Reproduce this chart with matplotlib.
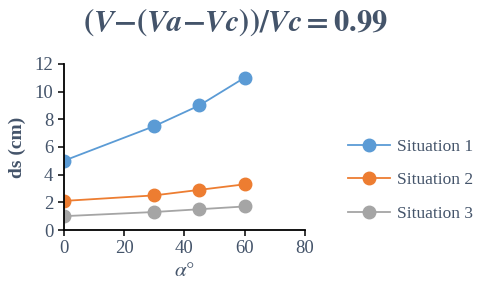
import matplotlib
matplotlib.use("Agg")
import matplotlib.pyplot as plt

angles = [0, 30, 45, 60]
situation_1 = [5.0, 7.5, 9.0, 11.0]
situation_2 = [2.1, 2.5, 2.9, 3.3]
situation_3 = [1.0, 1.3, 1.5, 1.7]
labels = ["Situation 1", "Situation 2", "Situation 3"]
colors = ["#5B9BD5", "#ED7D31", "#A5A5A5"]

plt.rcParams["font.family"] = "Liberation Serif"
plt.rcParams["mathtext.fontset"] = "stix"
text_color = "#44546A"

fig = plt.figure(figsize=(4.8, 2.93), dpi=100)
ax = fig.add_axes([0.133, 0.215, 0.502, 0.567])

for values, label, color in zip([situation_1, situation_2, situation_3], labels, colors):
    ax.plot(angles, values, color=color, lw=1.3, marker="o", markersize=9, label=label)

ax.set_xlim(0, 80)
ax.set_ylim(0, 12)
ax.set_xticks(range(0, 81, 20))
ax.set_yticks(range(0, 13, 2))
ax.spines["top"].set_visible(False)
ax.spines["right"].set_visible(False)
ax.spines["left"].set_linewidth(1.3)
ax.spines["bottom"].set_linewidth(1.3)
ax.tick_params(direction="out", length=4, width=1.1, labelsize=13.5, labelcolor=text_color)
for lbl in ax.get_xticklabels() + ax.get_yticklabels():
    lbl.set_clip_on(False)

ax.set_ylabel("ds (cm)", fontsize=14, fontweight="bold", color=text_color, labelpad=6)
ax.set_xlabel(r"$\alpha°$", fontsize=15, color=text_color, labelpad=3)

fig.text(0.49, 0.925,
         r"$\mathbf{(}\mathbfit{V}\mathbf{-(}\mathbfit{Va}\mathbf{-}\mathbfit{Vc}\mathbf{))/}\mathbfit{Vc}\mathbf{=0.99}$",
         ha="center", va="center", fontsize=22, color=text_color)

ax.legend(loc="center left", bbox_to_anchor=(1.18, 0.30), frameon=False,
          borderpad=0, borderaxespad=0, fontsize=12.5, labelcolor=text_color,
          handlelength=2.4, handletextpad=0.4, labelspacing=1.0)

fig.savefig("out.png", dpi=100)
